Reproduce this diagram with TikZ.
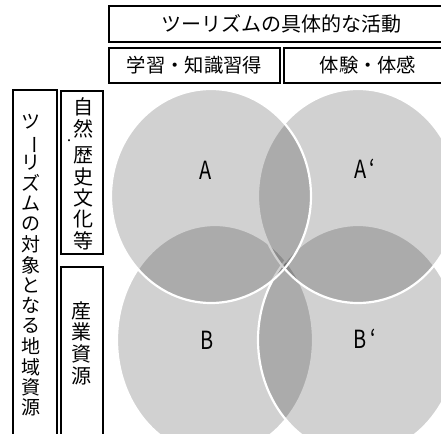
\documentclass[tikz,border=0pt]{standalone}
\usepackage{fontspec}
\setmainfont{Noto Sans CJK JP}
\usepackage{graphicx}
\begin{document}
\begin{tikzpicture}[x=1pt,y=-1pt,
  boxst/.style={draw=black, line width=1.6pt, inner sep=0pt},
  htext/.style={font=\fontsize{19.3}{19.3}\selectfont, inner sep=0pt},
  venn/.style={fill=black, fill opacity=0.18, draw=white, line width=2.2pt},
  lbl/.style={font=\fontsize{25}{25}\selectfont, inner sep=0pt},
  mch/.style={font=\fontsize{19}{19}\selectfont, inner sep=0pt},
  vch/.style={font=\fontsize{20}{20}\selectfont, inner sep=0pt}]
\useasboundingbox (0,0) rectangle (441,433);
\clip (0,0) rectangle (441,433);
\fill[white] (0,0) rectangle (441,433);

% Venn ellipses
\draw[venn] (215,340) ellipse [x radius=98, y radius=115];
\draw[venn] (358,340) ellipse [x radius=100, y radius=115];
\draw[venn] (358,196) ellipse [x radius=100, y radius=107];
\draw[venn] (211,196) ellipse [x radius=100, y radius=107];

\node[lbl] (la) at (206,170) {\scalebox{0.8}[1]{A}};
\node[lbl] (lap) at (365,169) {\scalebox{0.8}[1]{A\,‘}};
\node[lbl] (lb) at (207,340) {\scalebox{0.8}[1]{B}};
\node[lbl] (lbp) at (365,339) {\scalebox{0.8}[1]{B\,‘}};

% header boxes
\node[boxst, minimum width=344pt, minimum height=36pt] (top) at (281,24) {};
\node[htext, font=\fontsize{20}{20}\selectfont] (toptxt) at (281,24) {ツーリズムの具体的な活動};
\node[boxst, minimum width=171pt, minimum height=35pt] (learn) at (194.5,65.5) {};
\node[htext] (learntxt) at (194.5,65.5) {学習・知識習得};
\node[boxst, minimum width=168pt, minimum height=35pt] (exp) at (368,65.5) {};
\node[htext] (exptxt) at (368,65.5) {体験・体感};

% left column boxes
\node[boxst, minimum width=44pt, minimum height=360pt] (res) at (35,270) {};
\node[boxst, minimum width=42pt, minimum height=163pt] (nat) at (82,172.5) {};
\node[boxst, minimum width=42pt, minimum height=178pt] (ind) at (82,356) {};

% vertical text: main column
\foreach \c/\i in {ツ/0,リ/2,ズ/3,ム/4,の/5,対/6,象/7,と/8,な/9,る/10,地/11,域/12,資/13,源/14}
  \node[mch] (m\i) at (31,{122+20.4*\i}) {\c};
\node[mch, rotate=-90, text height=0.76em, text depth=0pt, text width=1em, align=center] (m1) at (31,140.5) {ー};

% vertical text: nature / history
\node[vch] (n0) at (83,107) {自};
\node[vch] (n1) at (83,129) {然};
\node[font=\fontsize{10}{10}\selectfont, inner sep=0pt] (ndot) at (69,142) {・};
\node[vch] (n2) at (83,155) {歴};
\node[vch] (n3) at (83,177) {史};
\node[vch] (n4) at (83,198) {文};
\node[vch] (n5) at (83,219) {化};
\node[vch] (n6) at (83,241) {等};

% vertical text: industry
\node[vch] (i0) at (81,311) {産};
\node[vch] (i1) at (81,332) {業};
\node[vch] (i2) at (81,354) {資};
\node[vch] (i3) at (81,376) {源};
\end{tikzpicture}
\end{document}
